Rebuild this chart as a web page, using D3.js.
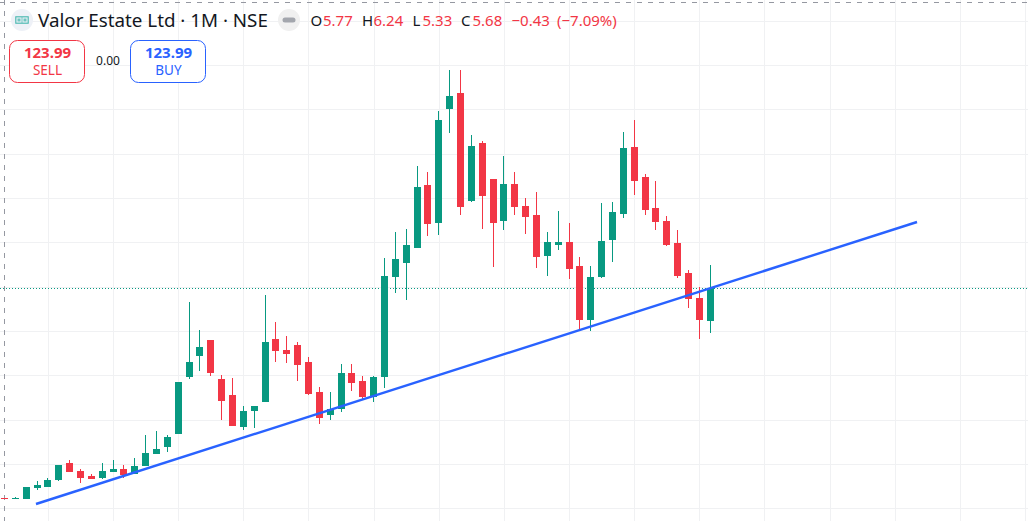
<!DOCTYPE html>
<html>
<head>
<meta charset="utf-8">
<script src="https://cdn.jsdelivr.net/npm/d3@7"></script>
<style>
  html, body { margin: 0; padding: 0; background: #fff; overflow: hidden; }
  text { font-family: "Noto Sans", sans-serif; }
</style>
</head>
<body>
<div id="chart"></div>
<script>
// Monthly candles
const opens = [3.58,3.57,3.57,3.68,3.69,3.76,3.93,3.85,3.80,3.78,3.84,3.87,3.82,3.90,4.02,4.09,4.22,4.79,5.00,5.16,4.77,4.61,4.29,4.45,4.54,5.17,5.06,5.11,4.94,4.64,4.41,4.47,4.83,4.75,4.59,4.79,5.79,5.93,6.08,6.71,6.33,7.47,7.63,6.55,7.13,6.77,6.35,6.72,6.50,6.41,6.00,6.11,6.14,5.90,5.36,5.79,6.16,6.42,7.09,6.79,6.48,6.35,6.13,5.83,5.58,5.35];
const highs = [3.58,3.59,3.69,3.75,3.78,3.91,3.96,3.87,3.82,3.93,3.96,3.91,3.98,4.21,4.25,4.21,4.74,5.54,5.26,5.16,4.81,4.78,4.50,4.50,5.61,5.34,5.20,5.14,4.99,4.69,4.64,4.92,4.92,4.80,4.80,5.98,6.24,6.27,6.90,6.84,7.45,7.86,7.86,7.21,7.15,6.77,7.00,6.84,6.58,6.64,6.24,6.45,6.33,5.99,5.90,6.53,6.54,7.24,7.36,6.82,6.75,6.40,6.26,5.86,5.69,5.91];
const lows = [3.57,3.57,3.57,3.66,3.69,3.75,3.84,3.73,3.77,3.77,3.84,3.78,3.82,3.90,4.02,4.04,4.22,4.77,4.85,4.80,4.36,4.30,4.26,4.28,4.54,4.94,4.93,4.75,4.61,4.32,4.36,4.44,4.65,4.56,4.54,4.68,5.63,5.56,6.08,6.20,6.21,7.23,6.41,6.54,6.27,5.89,6.26,6.41,6.22,5.88,5.80,6.06,5.77,5.25,5.25,5.78,5.94,6.38,6.61,6.41,6.26,6.10,5.78,5.48,5.17,5.23];
const closes = [3.57,3.58,3.69,3.71,3.76,3.91,3.84,3.78,3.77,3.85,3.87,3.81,3.90,4.03,4.07,4.19,4.74,4.94,5.09,4.83,4.55,4.30,4.45,4.50,5.14,5.05,5.02,4.91,4.62,4.38,4.47,4.83,4.73,4.59,4.79,5.80,5.97,6.11,6.69,6.32,7.36,7.60,6.49,7.10,6.60,6.33,6.72,6.49,6.39,5.99,6.14,6.14,5.87,5.36,5.79,6.15,6.44,7.08,6.75,6.46,6.34,6.11,5.80,5.57,5.36,5.68];

// Hidden axis ticks, only their gridlines show
const gridPrices = [8.35,7.91,7.47,7.02,6.58,6.14,5.69,5.25,4.81,4.36,3.92,3.48];
const gridIndexes = [4,10,16,22,28,34,40,46,52,58,64,70,76,82,88,94];

// Trend line end points as [bar index, price]
const trendIndex = [2.9, 84.05];
const trendPrice = [3.52, 6.34];
const lastPrice = 5.68;

const legendParts = ["O","5.77","H","6.24","L","5.33","C","5.68","\u22120.43","(\u22127.09%)"];
const title = "Valor Estate Ltd \u00b7 1M \u00b7 NSE";

const width = 1028, height = 521;
const UP = "#089981", DOWN = "#f23645", BLUE = "#2962ff", GRID = "#f0f1f3", CROSS = "#9598a1";

const svg = d3.select("#chart").append("svg")
  .attr("width", width).attr("height", height)
  .style("display", "block");

const x = d3.scaleLinear().domain([0, 65]).range([4.5, 710.2]);
const y = d3.scaleLinear().domain([3.35, 8.56]).range([521, 0]);

// grid
const gridX = svg.append("g").call(d3.axisBottom(x).tickValues(gridIndexes).tickSize(height).tickFormat(""));
const gridY = svg.append("g").call(d3.axisRight(y).tickValues(gridPrices).tickSize(width).tickFormat(""));
svg.selectAll(".domain").remove();
svg.selectAll(".tick line").attr("stroke", GRID).attr("shape-rendering", "crispEdges");

// crosshair leftovers
svg.append("line").attr("x1", -1).attr("x2", width).attr("y1", 2.5).attr("y2", 2.5)
  .attr("stroke", CROSS).attr("stroke-dasharray", "5 6").attr("shape-rendering", "crispEdges");
svg.append("line").attr("x1", 4.5).attr("x2", 4.5).attr("y1", 0).attr("y2", height)
  .attr("stroke", CROSS).attr("stroke-dasharray", "5 6").attr("shape-rendering", "crispEdges");

// last price line
svg.append("line").attr("x1", 0).attr("x2", width)
  .attr("y1", Math.floor(y(lastPrice)) + 0.5).attr("y2", Math.floor(y(lastPrice)) + 0.5)
  .attr("stroke", UP).attr("stroke-dasharray", "1 2").attr("shape-rendering", "crispEdges");

// candles
const candleColor = i => closes[i] >= opens[i] ? UP : DOWN;
const candles = svg.append("g").attr("shape-rendering", "crispEdges")
  .selectAll("g").data(d3.range(opens.length)).enter().append("g");

candles.append("rect")
  .attr("x", i => Math.floor(x(i)))
  .attr("width", 1)
  .attr("y", i => y(highs[i]))
  .attr("height", i => y(lows[i]) - y(highs[i]))
  .attr("fill", candleColor);

candles.append("rect")
  .attr("x", i => Math.floor(x(i)) - 3)
  .attr("width", 7)
  .attr("y", i => y(Math.max(opens[i], closes[i])))
  .attr("height", i => Math.max(1, Math.abs(y(opens[i]) - y(closes[i]))))
  .attr("fill", candleColor);

// trend line
svg.append("line")
  .attr("x1", x(trendIndex[0])).attr("y1", y(trendPrice[0]))
  .attr("x2", x(trendIndex[1])).attr("y2", y(trendPrice[1]))
  .attr("stroke", BLUE).attr("stroke-width", 2.4);

// header
svg.append("circle").attr("cx", 22).attr("cy", 20).attr("r", 11).attr("fill", "#eef1f7");
svg.append("rect").attr("x", 15).attr("y", 16).attr("width", 14).attr("height", 8).attr("rx", 1).attr("fill", "#6fc5c0");
svg.append("rect").attr("x", 17).attr("y", 18).attr("width", 4).attr("height", 4).attr("fill", "none").attr("stroke", "#eef1f7");
svg.append("rect").attr("x", 23).attr("y", 18).attr("width", 4).attr("height", 4).attr("fill", "none").attr("stroke", "#eef1f7");

svg.append("text").attr("x", 38).attr("y", 27)
  .attr("font-size", 18.8).attr("fill", "#131722").text(title);

svg.append("circle").attr("cx", 289).attr("cy", 20).attr("r", 11).attr("fill", "#f0f0f0");
svg.append("rect").attr("x", 282.5).attr("y", 17.5).attr("width", 13).attr("height", 5).attr("rx", 2.5).attr("fill", "#a3a6ad");

const legendX = [310.5,323,362,373.5,412.5,422.5,461,472.5,511.5,557];
svg.append("g").selectAll("text").data(legendParts).enter().append("text")
  .attr("x", (d, i) => legendX[i])
  .attr("y", 26)
  .attr("font-size", 15)
  .attr("fill", (d, i) => (i < 8 && i % 2 == 0) ? "#131722" : DOWN)
  .text(d => d);

// sell / buy buttons
function tradeButton(left, label, colour) {
  const g = svg.append("g");
  g.append("rect").attr("x", left).attr("y", 40.5).attr("width", 75).attr("height", 42).attr("rx", 8)
    .attr("fill", "#fff").attr("stroke", colour);
  g.append("text").attr("x", left + 38).attr("y", 58).attr("text-anchor", "middle")
    .attr("font-size", 15).attr("font-weight", 700).attr("fill", colour).text("123.99");
  g.append("text").attr("x", left + 38).attr("y", 75).attr("text-anchor", "middle")
    .attr("font-size", 13.5).attr("fill", colour).text(label);
}
tradeButton(9.5, "SELL", DOWN);
tradeButton(130.5, "BUY", BLUE);
svg.append("text").attr("x", 108).attr("y", 65).attr("text-anchor", "middle")
  .attr("font-size", 12).attr("fill", "#131722").text("0.00");
</script>
</body>
</html>
